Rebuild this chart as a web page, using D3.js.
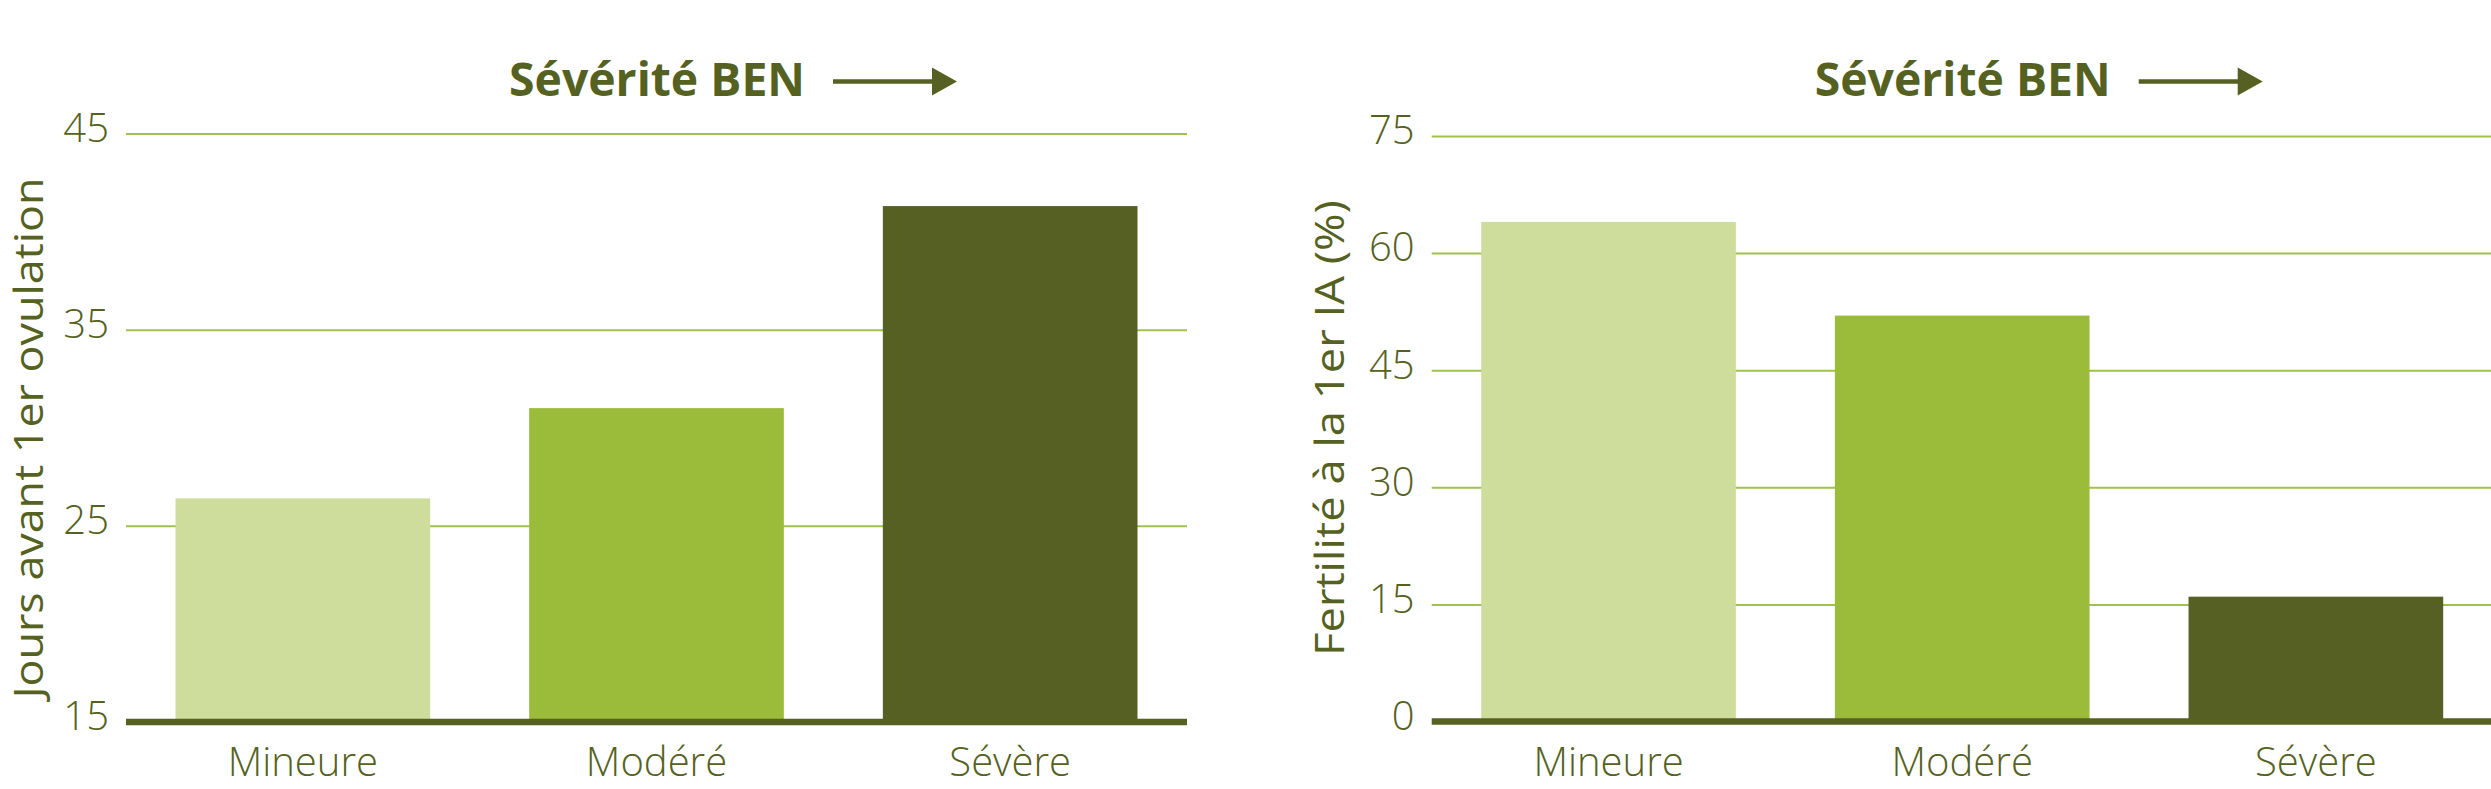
<!DOCTYPE html>
<html>
<head>
<meta charset="utf-8">
<script src="https://cdn.jsdelivr.net/npm/d3@7"></script>
<style>
  body { margin: 0; background: #fff; }
  svg { display: block; }
  text { fill: #556121; font-family: "Open Sans", "DejaVu Sans", sans-serif; }
  .tick-lbl { font-size: 40px; font-weight: 300; }
  .axis-title { font-size: 41px; font-weight: 400; }
  .chart-title { font-size: 46px; font-weight: 700; }
</style>
</head>
<body>
<svg id="chart" width="2491" height="789"></svg>
<script>
"use strict";

const CATEGORIES = ['Mineure', 'Modéré', 'Sévère'];
const BAR_COLORS = ['#cedd9c', '#9abc3a', '#556022'];

const JOURS_VALUES = [26.4, 31.0, 41.3];
const JOURS_TICKS = [15, 25, 35, 45];
const JOURS_LABEL = "Jours avant 1er ovulation";

const FERT_VALUES = [64, 52, 16];
const FERT_TICKS = [0, 15, 30, 45, 60, 75];
const FERT_LABEL = "Fertilité à la 1er IA (%)";

const TITLE = "Sévérité BEN";

const GRID_COLOR = '#a0c14a';
const AXIS_COLOR = '#556022';

function drawChart(svg, opts) {
    let g = svg.append("g");
    let x = d3.scaleBand()
        .domain(CATEGORIES)
        .range([opts.left, opts.left + 1061])
        .paddingInner(0.28)
        .paddingOuter(0.14);
    let y = d3.scaleLinear()
        .domain([opts.ticks[0], opts.ticks[opts.ticks.length - 1]])
        .range([opts.bottom, opts.top]);

    // gridlines + tick labels
    let yAxis = g.append("g")
        .attr("transform", `translate(${opts.left}, 0)`)
        .call(d3.axisLeft(y).tickValues(opts.ticks).tickSize(-1061).tickPadding(17));
    yAxis.select(".domain").remove();
    yAxis.selectAll(".tick line")
        .attr("stroke", GRID_COLOR)
        .attr("stroke-width", 2)
        .attr("opacity", d => d == opts.ticks[0] ? 0 : 1);
    yAxis.selectAll(".tick text")
        .attr("class", "tick-lbl")
        .attr("y", -5)
        .attr("fill", "#556121");

    // bars
    g.selectAll("rect.bar")
        .data(opts.values)
        .join("rect")
        .attr("class", "bar")
        .attr("x", (d, i) => x(CATEGORIES[i]))
        .attr("width", x.bandwidth())
        .attr("y", d => y(d))
        .attr("height", d => y(opts.ticks[0]) - y(d))
        .attr("fill", (d, i) => BAR_COLORS[i]);

    // thick base line
    g.append("line")
        .attr("x1", opts.left).attr("x2", opts.left + 1061)
        .attr("y1", y(opts.ticks[0])).attr("y2", y(opts.ticks[0]))
        .attr("stroke", AXIS_COLOR)
        .attr("stroke-width", 6.5);

    // category labels
    let xAxis = g.append("g")
        .attr("transform", `translate(0, ${y(opts.ticks[0])})`)
        .call(d3.axisBottom(x).tickSize(0).tickPadding(26));
    xAxis.select(".domain").remove();
    xAxis.selectAll(".tick text")
        .attr("class", "tick-lbl")
        .attr("fill", "#556121");

    // y axis title
    g.append("text")
        .attr("class", "axis-title")
        .attr("text-anchor", "middle")
        .attr("transform", `translate(${opts.labelX}, ${opts.labelY}) rotate(-90)`)
        .attr("textLength", opts.labelLen)
        .attr("lengthAdjust", "spacingAndGlyphs")
        .text(opts.label);

    // title with arrow
    g.append("text")
        .attr("class", "chart-title")
        .attr("x", opts.left + 383)
        .attr("y", 96)
        .attr("textLength", 296)
        .attr("lengthAdjust", "spacingAndGlyphs")
        .text(TITLE);
    g.append("line")
        .attr("x1", opts.left + 707).attr("x2", opts.left + 810)
        .attr("y1", 81.5).attr("y2", 81.5)
        .attr("stroke", AXIS_COLOR)
        .attr("stroke-width", 4.3);
    let ax = opts.left + 806;
    g.append("path")
        .attr("d", `M${ax},67.5 L${ax + 25},81.5 L${ax},95.5 Z`)
        .attr("fill", AXIS_COLOR);
}

const svg = d3.select("#chart");

drawChart(svg, {
    left: 126, top: 133.5, bottom: 722,
    values: JOURS_VALUES, ticks: JOURS_TICKS,
    label: JOURS_LABEL, labelX: 43, labelY: 438, labelLen: 521
});

drawChart(svg, {
    left: 1431.7, top: 136, bottom: 721.6,
    values: FERT_VALUES, ticks: FERT_TICKS,
    label: FERT_LABEL, labelX: 1344, labelY: 428, labelLen: 456
});
</script>
</body>
</html>
